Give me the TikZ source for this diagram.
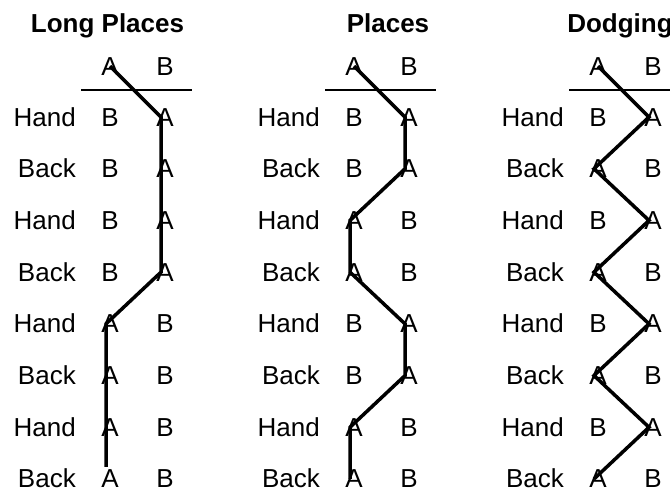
\documentclass[tikz,border=0pt]{standalone}
\usepackage{fontspec}
\setmainfont{Liberation Sans}
\usetikzlibrary{positioning}

\begin{document}
\begin{tikzpicture}[
x=1pt, y=-1pt,
txt/.style={font=\fontsize{26}{30}\selectfont, anchor=base, inner sep=3pt},
lab/.style={txt, anchor=base east, inner sep=0pt},
ttl/.style={font=\fontsize{26}{30}\selectfont\bfseries, anchor=base, inner sep=0pt},
rule/.style={line width=2.5pt},
trail/.style={line width=3.5pt, line join=miter}
]
\useasboundingbox (0,0) rectangle (670,490);
% titles
\node[ttl] (tlp) at (107.5,32) {Long Places};
\node[ttl] (tpl) at (388,32) {Places};
\node[ttl] (tdg) at (620,32) {Dodging};
% panels: name / x offset / column of A per row (1 = right) / end anchor
\foreach \p/\ox/\seq/\ea in {lp/0/{1,1,1,1,0,0,0,0}/north,
                             pl/244/{1,1,0,0,1,1,0,0}/center,
                             dg/488/{1,0,1,0,1,0,1,0}/center}{
  \node[txt] (\p ha) at (\ox+110,75) {A};
  \node[txt] (\p hb) at (\ox+165,75) {B};
  \draw[rule] (\ox+81,90) -- (\ox+192,90);
  \foreach \a [count=\r] in \seq {
    \pgfmathsetmacro\yb{126+51.7*(\r-1)}
    \pgfmathsetmacro\xa{\ox+110+55*\a}
    \pgfmathsetmacro\xb{\ox+165-55*\a}
    \node[lab] (\p l\r) at (\ox+76,\yb) {\ifodd\r Hand\else Back\fi};
    \node[txt] (\p a\r) at (\xa,\yb) {A};
    \node[txt] (\p b\r) at (\xb,\yb) {B};
  }
  \draw[trail] (\p ha.center)
    \foreach \r in {1,...,7}{ -- ([xshift=-4pt]\p a\r.center)}
    -- ([xshift=-4pt]\p a8.\ea);
}
\end{tikzpicture}
\end{document}
